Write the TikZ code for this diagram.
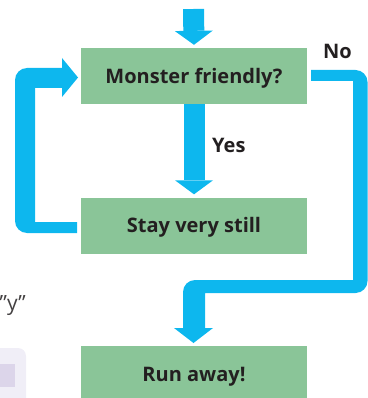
\documentclass[tikz,border=0pt]{standalone}
\usepackage{fontspec}
\setmainfont{Open Sans}
\usetikzlibrary{arrows.meta}
\definecolor{boxgreen}{HTML}{8AC598}
\definecolor{flowblue}{HTML}{0DB7EE}
\definecolor{inkdark}{HTML}{231F20}
\definecolor{lavlight}{HTML}{F0EEF7}
\definecolor{lavdark}{HTML}{DCD5EA}
\tikzset{
  stepbox/.style={fill=boxgreen, draw=none, minimum width=226pt, minimum height=56pt,
    inner sep=0pt, text height=14.3pt, text depth=0pt,
    font=\fontsize{20}{24}\selectfont\bfseries, text=inkdark},
  lbl/.style={inner sep=0pt, font=\fontsize{20}{24}\selectfont\bfseries, text=inkdark},
  straightflow/.style={flowblue, line width=21pt,
    -{Triangle[length=14pt,width=38pt,line width=0pt]}},
}
\begin{document}
\begin{tikzpicture}[x=1pt,y=-1pt]
\useasboundingbox (0,0) rectangle (367,398);
% boxes
\node[stepbox] (monster) at (194,76) {Monster friendly?};
\node[stepbox] (stay) at (194,225.5) {Stay very still};
\node[stepbox] (run) at (194,374) {Run away!};
% labels
\node[lbl, anchor=base west] (no) at (323,59) {No};
\node[lbl, anchor=base west] (yes) at (212,152) {Yes};
% cropped leftovers at the left edge
\node[inner sep=0pt, anchor=base east, font=\fontsize{21}{25}\selectfont, text=inkdark!85] (ytxt) at (26,310) {”y”};
\fill[lavlight, rounded corners=8pt] (-20,348) rectangle (26,420);
\fill[lavdark] (-5,364) rectangle (15,387);
% straight connectors
\coordinate (topin) at (193.5,9);
\draw[straightflow] (topin) -- ([yshift=3pt]monster.north);
\draw[straightflow] (monster.south) -- ([yshift=3pt]stay.north);
% loop back: stay -> monster
\coordinate (l1) at (77,222);
\coordinate (l2) at (35,222);
\coordinate (l3) at (35,88);
\coordinate (l4) at (62,88);
\coordinate (l5) at (62,97);
\coordinate (ltip) at (78,77.5);
\coordinate (l6) at (62,58);
\coordinate (l7) at (62,68);
\coordinate (l8) at (40,68);
\coordinate (l9) at (15,68);
\coordinate (l10) at (15,233);
\coordinate (l11) at (50,233);
\coordinate (l12) at (77,233);
\fill[flowblue] (l1) -- (l2) -- (l3) -- (l4) -- (l5) -- (ltip) -- (l6) -- (l7) -- (l8)
  [rounded corners=12pt] -- (l9) -- (l10) -- (l11) [sharp corners] -- (l12) -- cycle;
% No branch: monster -> run
\coordinate (r1) at (311,70);
\coordinate (r2) at (330,70);
\coordinate (r3) at (367.5,70);
\coordinate (r4) at (367.5,293);
\coordinate (r5) at (300,293);
\coordinate (r6) at (205,293);
\coordinate (r7) at (205,328);
\coordinate (r8) at (213,328);
\coordinate (rtip) at (193.5,343);
\coordinate (r9) at (174,328);
\coordinate (r10) at (183,328);
\coordinate (r11) at (183,310);
\coordinate (r12) at (183,280);
\coordinate (r13) at (250,280);
\coordinate (r14) at (353,280);
\coordinate (r15) at (353,81);
\coordinate (r16) at (311,81);
\fill[flowblue] (r1) -- (r2) [rounded corners=12pt] -- (r3) -- (r4) -- (r5) [sharp corners]
  -- (r6) -- (r7) -- (r8) -- (rtip) -- (r9) -- (r10) -- (r11) [rounded corners=12pt]
  -- (r12) -- (r13) [sharp corners] -- (r14) -- (r15) -- (r16) -- cycle;
\end{tikzpicture}
\end{document}
